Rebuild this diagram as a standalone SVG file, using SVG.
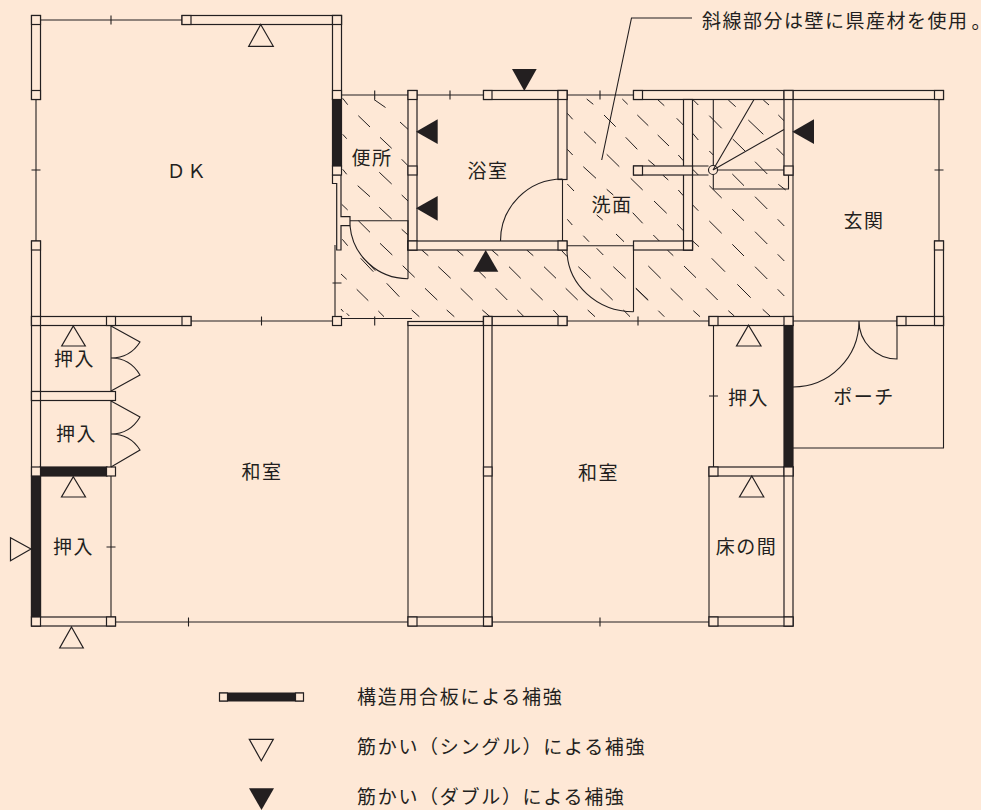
<svg xmlns="http://www.w3.org/2000/svg" width="981" height="810" viewBox="0 0 981 810">
<style>
.w{fill:#fee8d6;stroke:#231f20;stroke-width:1.2}
.l{fill:none;stroke:#231f20;stroke-width:1.1}
.h{fill:none;stroke:#231f20;stroke-width:1}
.k{fill:#231f20;stroke:none}
.b{fill:#231f20;stroke:#231f20;stroke-width:1.2}
.o{fill:none;stroke:#231f20;stroke-width:1.2}
text{font-family:"Noto Sans CJK JP","Noto Sans",sans-serif;font-size:19px;fill:#231f20;letter-spacing:1.5px;text-anchor:middle;dominant-baseline:central}
.s{text-anchor:start;letter-spacing:1.7px}
.a{text-anchor:start;letter-spacing:1.5px}
</style>
<rect width="981" height="810" fill="#fee8d6"/>
<g id="hatch" class="h">
<path d="M374 99.5L385.5 107.5M358.3 115.7L370 127M400 122L408 129.3M380 137.3L391.7 148.3M342.7 98.3L347.7 104.7M342.7 134.3L346.7 138.7M401.7 159.3L408 165.7M342.7 169.3L346.7 174.3M379.3 172.3L391.7 184M357.7 185.7L370 196.7M401.7 195L408 201M379.3 207.3L391.7 219M341.7 204.3L347.7 210M358.3 220.7L370 232.3M401.7 229.3L408 235M380 243.3L392.3 255M342.3 239.3L347.7 245.7M360.7 258.3L373.3 271.7M362.7 257.3L375.3 270.7M402.7 265.7L414.7 277.3M341 274L346.7 279.3M386.7 283.3L399.3 296.7M356.7 289.3L368.3 300.7M378.3 311L384 316.7M411.7 310L419.3 316.7M341 309L343.3 311.7M346.7 313.3L349.3 316"/>
<path d="M421.7 250L428.3 255.7M456.7 250L463.3 255.7M491.7 250L498.3 255.7M526.7 250L533.3 255.7M561.7 250.7L567.3 256.7M438.3 266.7L450.7 278.3M478.3 270.7L485.7 278M509 266.7L520.7 278.3M544 266.7L556 278.3M578.3 266.7L590.7 278.3M613.3 266.7L625.7 278.3M425 288.3L437.3 300M460.7 288.3L472.7 300M495.7 288.3L507.3 300M530.7 288.3L542.7 300M565.7 288.3L577.7 300M600.7 288.3L612.7 300M636 288.3L648.3 300M446.7 310L454.3 316.7M482.3 310L490 316.7M517.3 310L524 316.7M553.3 310L559.3 316.7M587.7 310L595 316.7M623.3 310L630 316.7M596.7 248.3L603.3 255"/>
<path d="M586.7 99L593.3 104.3M622.3 99L627.7 104.3M567.3 113.3L572.7 119.3M604 115L615.7 126.7M637.3 115L648.3 125.7M584 131.7L596 143.3M625.7 137.3L637.3 149.3M567.3 149.3L572.7 155M606.7 154.3L619.3 166.7M583.3 166.7L596 178.3M630.7 178.3L642.7 190M567.3 184L574 191M606.7 189.3L613.3 195M596.7 215L602.7 220M632.7 212.7L642.7 223.3M567.3 219.3L572.3 225M583.3 235.7L589 241.7M616 234L624 241.7"/>
<path d="M657.3 99.3L664.3 105.7M693.3 100L698.3 105M728.3 100L735.7 106.7M763.3 100L769 105M676.7 118.3L683.3 125M709.3 115.7L721.7 128.3M748.3 120L763.3 134.3M778.3 115L784 120.7M692.7 133.3L698.3 140M657.7 135L669 146M732.7 139L745 151M776.7 148.3L784 155.7M678.3 155L683.3 160.7M709.3 151L713.3 155M648.3 160L655 165.7M755 161.7L767.3 174M662.7 175L668.3 180M692.7 169.3L698.3 175M732.3 174L744 185.7M709.3 185.7L721.7 198M778.3 184.3L785.7 190M678.3 190L683.3 195.7M755 196.7L767.3 209M654 201L666.7 213.3M692.7 205L698.3 210.7M732.3 209.3L744 220.7M709.3 221L721.7 233.3M777.7 219.3L784.3 226M677.3 224.3L683.3 230.7M755 231.7L767.3 244M653.3 235L659.3 241M692.7 241L699 246.7M732.3 244.3L744 256M777.7 254.3L784.3 261M667.3 250L673.3 255.7M648.3 266L660.7 278.3M684 266L696 277.7M711.7 258.3L725 271.7M755 266.7L767.3 279M635.7 288.3L647.7 300M670.7 288.3L682.7 300M706 288.3L717.7 300M737.3 284.3L750.7 297.7M777.7 289.3L784.3 296M658.3 310.7L664.3 316.7M693.3 310.7L700 316.7M728.3 310.7L734.3 316M762.7 309.3L770 316"/>
</g>
<g id="thin-walls" class="l">
<path d="M36 99V241M31.5 170H40.5M40 20H182M111 15.5V24.5"/>
<path d="M335 245V317M332.5 283H341.5M191 321H333M261.5 316.5V325.5M341.5 318.5H412M374.7 316.5V325.5"/>
<path d="M341.5 95H408M374.7 90.5V99.5M417 95H483.5M450 90.5V99.5M567 95H633.5M600 90.5V99.5"/>
<path d="M567 321H709M638 316.5V325.5M793 321H897"/>
<path d="M939 99V241M934.5 170H943.5"/>
<path d="M943.5 325V448H793"/>
<path d="M713.5 325V467M709 396H718"/>
<path d="M111 325V391.5M111 400.5V467M111 476V617M106.5 547H115.5"/>
<path d="M115.5 622H408M188.5 617.5V626.5M492 622H709M600 617.5V626.5"/>
<path d="M408 321V617"/>
<path d="M709 476V617"/>
<path d="M793 175V316.5"/>
</g>
<g id="walls">
<rect class="w" x="31.5" y="15.5" width="9" height="84"/>
<rect class="w" x="182" y="15.5" width="159.5" height="9"/>
<rect class="w" x="332.5" y="15.5" width="9" height="84"/>
<rect class="w" x="31.5" y="241" width="9" height="385"/>
<rect class="w" x="31.5" y="316.5" width="159.5" height="9"/>
<rect class="w" x="31.5" y="391.5" width="84" height="9"/>
<rect class="w" x="31.5" y="617" width="84" height="9"/>
<rect class="w" x="408" y="90.5" width="9" height="159.5"/>
<rect class="w" x="483.5" y="90.5" width="83.5" height="9"/>
<rect class="w" x="558" y="90.5" width="9" height="89"/>
<rect class="w" x="408" y="241" width="159" height="9"/>
<rect class="w" x="633.5" y="90.5" width="310" height="9"/>
<rect class="w" x="683.5" y="99.5" width="9" height="150.5"/>
<rect class="w" x="633.5" y="166" width="59" height="9"/>
<rect class="w" x="633.5" y="241" width="59" height="9"/>
<rect class="w" x="784" y="90.5" width="9" height="84.5"/>
<rect class="w" x="934.5" y="241" width="9" height="84"/>
<rect class="w" x="408" y="321.5" width="75.5" height="4"/>
<rect class="w" x="483.5" y="316.5" width="83.5" height="9"/>
<rect class="w" x="483.5" y="316.5" width="8.5" height="309.5"/>
<rect class="w" x="709" y="316.5" width="84" height="9"/>
<rect class="w" x="897" y="316.5" width="46.5" height="9"/>
<rect class="w" x="709" y="467" width="84" height="9"/>
<rect class="w" x="784" y="467" width="9" height="159"/>
<rect class="w" x="709" y="617" width="84" height="9"/>
<rect class="w" x="408" y="617" width="84" height="9"/>
<path class="w" d="M332.5 175V183.5H336.7V250H341V225.7H350V216.7H341V175Z"/>
<rect class="b" x="332.5" y="99" width="9" height="67"/>
<rect class="b" x="784" y="325" width="9" height="142"/>
<rect class="b" x="31.5" y="476" width="9" height="141"/>
<rect class="b" x="40" y="467" width="67" height="9"/>
</g>
<g id="posts" class="w">
<rect x="31.5" y="15.5" width="9" height="9"/><rect x="31.5" y="90.5" width="9" height="9"/><rect x="182" y="15.5" width="9" height="9"/><rect x="332.5" y="15.5" width="9" height="9"/><rect x="332.5" y="90.5" width="9" height="9"/><rect x="332.5" y="166" width="9" height="9"/><rect x="31.5" y="241" width="9" height="9"/><rect x="31.5" y="316.5" width="9" height="9"/><rect x="106.5" y="316.5" width="9" height="9"/><rect x="182" y="316.5" width="9" height="9"/><rect x="332.5" y="316.5" width="9" height="9"/><rect x="31.5" y="391.5" width="9" height="9"/><rect x="31.5" y="467" width="9" height="9"/><rect x="106.5" y="467" width="9" height="9"/><rect x="31.5" y="617" width="9" height="9"/><rect x="106.5" y="617" width="9" height="9"/>
<rect x="408" y="90.5" width="9" height="9"/><rect x="408" y="166" width="9" height="9"/><rect x="408" y="241" width="9" height="9"/><rect x="483.5" y="90.5" width="8.5" height="9"/><rect x="558" y="90.5" width="9" height="9"/><rect x="558" y="241" width="9" height="9"/>
<rect x="633.5" y="90.5" width="9" height="9"/><rect x="633.5" y="166" width="9" height="9"/><rect x="683.5" y="241" width="9" height="9"/><rect x="784" y="90.5" width="9" height="9"/><rect x="784" y="166" width="9" height="9"/><rect x="934.5" y="90.5" width="9" height="9"/><rect x="934.5" y="241" width="9" height="9"/><rect x="934.5" y="316.5" width="9" height="9"/><rect x="897" y="316.5" width="9" height="9"/>
<rect x="483.5" y="316.5" width="8.5" height="9"/><rect x="558" y="316.5" width="9" height="9"/><rect x="709" y="316.5" width="9" height="9"/><rect x="784" y="316.5" width="9" height="9"/><rect x="483.5" y="467" width="8.5" height="9"/><rect x="709" y="467" width="9" height="9"/><rect x="784" y="467" width="9" height="9"/><rect x="408" y="617" width="9" height="9"/><rect x="483.5" y="617" width="8.5" height="9"/><rect x="709" y="617" width="9" height="9"/><rect x="784" y="617" width="9" height="9"/>
</g>
<g id="doors" class="l">
<path d="M350 220.7H408V278.7M350 225.7A58 58 0 0 0 408 278.7"/>
<path d="M562.5 179V241M562.5 179A62 62 0 0 0 500.5 241"/>
<path d="M567 245.7H633.5V311.7M567 250A66.5 62 0 0 0 633.5 311.7"/>
<path d="M859 321A66 66 0 0 1 793 387M859 321A38 38 0 0 0 897 359V325"/>
<path d="M111 326L140 342Q130 358 111 358Q130 358 140 375L111 391"/>
<path d="M111 401L140 417Q130 434 111 434Q130 434 140 450L111 467"/>
</g>
<g id="stairs" class="l">
<path d="M692.5 166H708.5M692.5 175H708.5"/>
<path d="M713.3 99.5V165.5M713 170L754 99.5M713 170L784 129.5M717.5 170H784M713.3 174.5V189H788.5V175"/>
<circle cx="713" cy="170" r="4.5"/>
</g>
<g id="single-bracing" class="o">
<path d="M260.7 24.5L273.3 46.3H248.7Z"/>
<path d="M73.3 326L85.3 346H61.7Z"/>
<path d="M73.3 476.7L85.5 497H61.5Z"/>
<path d="M31 549L10.5 560.7V537.7Z"/>
<path d="M71.5 627L83.3 648H59.7Z"/>
<path d="M748.5 325.3L761 346H736.5Z"/>
<path d="M751.8 476L763.8 497H739.5Z"/>
</g>
<g id="double-bracing" class="k">
<path d="M524.3 91L536.7 69H512Z"/>
<path d="M416 131.7L437.7 119.3V144Z"/>
<path d="M416 208.3L437.7 196V220.7Z"/>
<path d="M485.7 250L498.3 271.7H473.3Z"/>
<path d="M792.3 131.7L814 119.3V144Z"/>
</g>
<path id="leader" class="l" d="M692 18H631.5L601.7 160"/>
<g id="labels">
<text x="187" y="169.5">ＤＫ</text>
<text x="372" y="156.5">便所</text>
<text x="488" y="169.5">浴室</text>
<text x="612" y="203.5">洗面</text>
<text x="864" y="219.5">玄関</text>
<text x="74.5" y="357.5">押入</text>
<text x="76.5" y="432.5">押入</text>
<text x="73.5" y="545.5">押入</text>
<text x="748.5" y="396.5">押入</text>
<text x="262" y="470.5">和室</text>
<text x="598.5" y="471.5">和室</text>
<text x="864" y="395.5">ポーチ</text>
<text x="746.5" y="545.5">床の間</text>
<text class="a" x="702" y="19.5">斜線部分は壁に県産材を使用<tspan dx="3" style="letter-spacing:-12px">。</tspan></text>
</g>
<g id="legend">
<rect class="k" x="219" y="692.5" width="85" height="9"/>
<rect class="w" x="219.5" y="693" width="8" height="8"/>
<rect class="w" x="295.5" y="693" width="8" height="8"/>
<path class="o" d="M261.3 760.7L273.3 739.3H249.3Z"/>
<path class="k" d="M261.5 810L274 788.3H249Z"/>
<text class="s" x="357" y="695.5">構造用合板による補強</text>
<text class="s" x="357" y="745.5">筋かい（シングル）による補強</text>
<text class="s" x="357" y="795.5">筋かい（ダブル）による補強</text>
</g>
</svg>
